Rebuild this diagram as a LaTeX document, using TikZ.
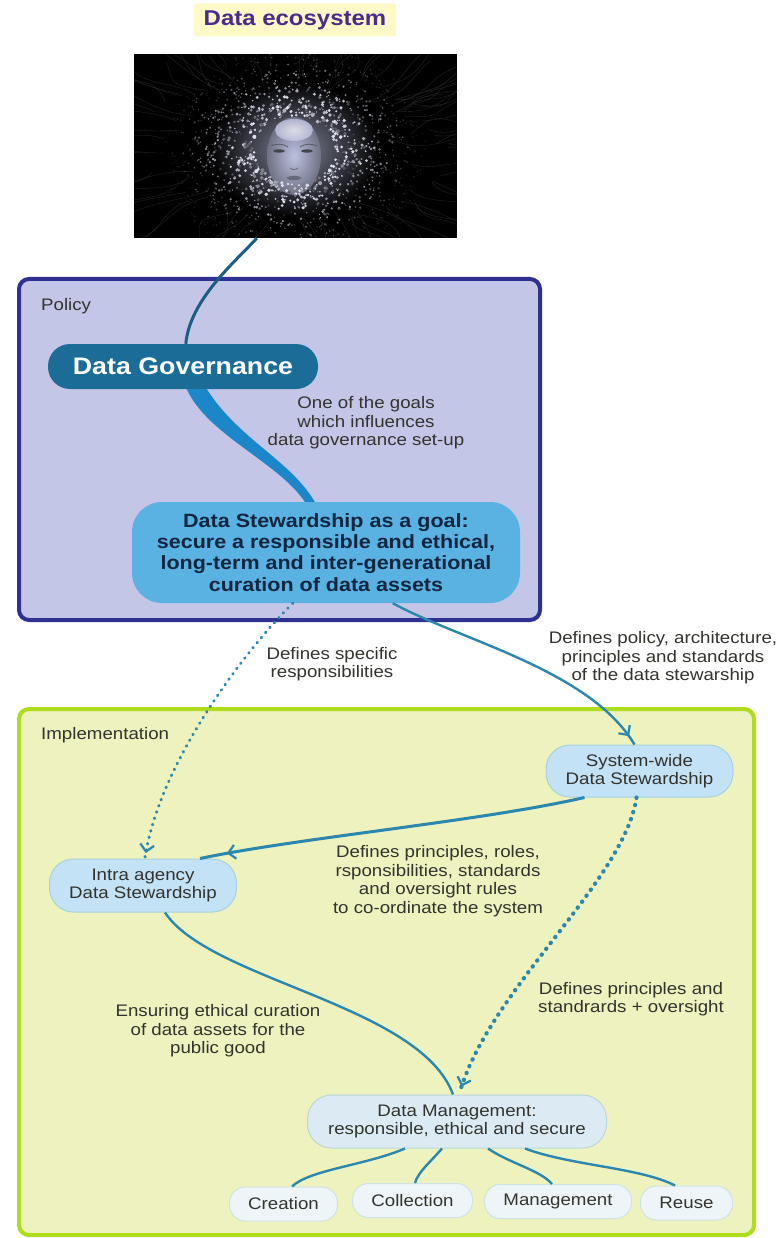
\documentclass[tikz,border=0pt]{standalone}
\usepackage{fontspec}
\setmainfont[FakeStretch=1.12]{Liberation Sans}
\usetikzlibrary{calc,arrows.meta,decorations.markings}
\definecolor{lbl}{HTML}{33332E}
\definecolor{cline}{HTML}{2B87AD}
\definecolor{cdark}{HTML}{1B5E85}
\definecolor{dgfill}{HTML}{1B6D98}
\definecolor{dsfill}{HTML}{5AB2E3}
\definecolor{taper}{HTML}{1B86C8}
\definecolor{steel}{HTML}{B9BEDD}
\definecolor{titlebg}{RGB}{255,249,200}
\definecolor{titletx}{RGB}{75,42,140}
\definecolor{polbd}{RGB}{46,49,146}
\definecolor{polbg}{RGB}{195,198,230}
\definecolor{impbd}{RGB}{174,221,30}
\definecolor{impbg}{RGB}{238,242,190}
\definecolor{dstx}{RGB}{18,38,63}
\definecolor{pa}{RGB}{167,210,217}
\definecolor{pafill}{RGB}{195,226,246}
\definecolor{pb}{RGB}{185,215,220}
\definecolor{pbfill}{RGB}{220,235,243}
\definecolor{pc}{RGB}{207,227,230}
\definecolor{pcfill}{RGB}{237,245,248}
\definecolor{spark}{RGB}{222,224,240}
\tikzset{
  lab/.style={text=lbl,align=center,inner sep=0pt,font=\fontsize{16.7}{18.6}\selectfont},
  boxlab/.style={lab,anchor=west},
  frame/.style={draw,line width=4pt,rounded corners=10pt},
  pill/.style={draw=#1,fill=#1fill,line width=1pt,rounded corners=24pt,inner sep=0pt,align=center,text=lbl,font=\fontsize{16.7}{18.6}\selectfont},
  leaf/.style={pill=pc,rounded corners=16pt,minimum height=34},
  conn/.style={draw=cline,line width=2.4pt},
  dots/.style={draw=cline,line cap=round,dash pattern=on 0.6pt off 6pt,line width=3pt},
  dotsb/.style={draw=cline,line cap=round,dash pattern=on 0.4pt off 7pt,line width=4.2pt},
  vhead/.style={postaction={decorate},decoration={markings,mark=at position #1 with {\arrow[solid,line cap=butt,line width=2.2pt,draw=cline]{Straight Barb[length=7pt,width=14pt]}}}}
}
\begin{document}
\begin{tikzpicture}[x=1pt,y=-1pt]
\useasboundingbox (0,0) rectangle (783,1238);
\fill[white] (0,0) rectangle (783,1238);
% title
\node[name=title,minimum width=202,minimum height=33,fill=titlebg,rounded corners=3pt,inner sep=0pt,text=titletx,font=\bfseries\fontsize{21.4}{25}\selectfont] at (295,20) {Data ecosystem};
% containers
\node[name=policy,frame,draw=polbd,fill=polbg,minimum width=521,minimum height=341] at (279.5,449.5) {};
\node[name=impl,frame,draw=impbd,fill=impbg,minimum width=735,minimum height=526] at (386.5,972) {};
\node[name=policylab,boxlab] at (41,306) {Policy};
\node[name=impllab,boxlab] at (41,735) {Implementation};
% image
\node[name=img,fill=black,minimum width=323,minimum height=184,inner sep=0pt] at (295.5,146) {};
\begin{scope}
\clip ($(img.south west)+(0,-1)$) rectangle ($(img.north east)+(0,1)$);
\pgfmathsetseed{4217}
\foreach \i in {1,...,90}{
  \pgfmathsetmacro\a{rnd*360}
  \pgfmathsetmacro\ra{75+rnd*40}
  \pgfmathsetmacro\rb{\ra+40+rnd*60}
  \pgfmathsetmacro\wa{\a+rnd*24-12}
  \pgfmathsetmacro\wb{\a+rnd*24-12}
  \draw[line width=0.3pt,black!84!white]
    ($(295,150)+({1.35*\ra*cos(\a)},{0.8*\ra*sin(\a)})$)
    .. controls ($(295,150)+({1.35*(\ra+25)*cos(\wa)},{0.8*(\ra+25)*sin(\wa)})$)
    and ($(295,150)+({1.35*(\rb-25)*cos(\wb)},{0.8*(\rb-25)*sin(\wb)})$)
    .. ($(295,150)+({1.35*\rb*cos(\a)},{0.8*\rb*sin(\a)})$);
}
\shade[inner color=steel!70!black,outer color=black] (295,150) ellipse (85 and 68);
\end{scope}
% face
\shade[inner color=steel!95!white,outer color=steel!60!black] (294,156) ellipse (27 and 39);
\shade[inner color=white!80!steel,outer color=steel!92!white,opacity=.8] (294,130) ellipse (19 and 11);
\fill[black!65!steel] (279,151) ellipse (6 and 1.6);
\fill[black!65!steel] (307,151) ellipse (6 and 1.6);
\draw[black!55!steel,line width=.7pt] (271,146) .. controls (277,143) and (284,144) .. (288,147);
\draw[black!55!steel,line width=.7pt] (317,146) .. controls (311,143) and (304,144) .. (300,147);
\draw[black!50!steel,line width=.7pt] (290,168) .. controls (292,170) and (296,170) .. (298,168);
\fill[black!45!steel] (286,178) .. controls (290,175) and (298,175) .. (302,178) .. controls (298,181) and (290,181) .. (286,178) -- cycle;
\begin{scope}
\clip ($(img.south west)+(0,-1)$) rectangle ($(img.north east)+(0,1)$);
\foreach \i in {1,...,1500}{
  \pgfmathsetmacro\a{rnd*360}
  \pgfmathsetmacro\u{rnd}
  \pgfmathsetmacro\r{36+82*pow(\u,1.15)}
  \pgfmathsetmacro\px{295+1.12*\r*cos(\a)}
  \pgfmathsetmacro\py{150+0.95*\r*sin(\a)}
  \pgfmathsetmacro\b{max(10,min(100,(122-\r)*1.3*(0.35+0.85*rnd)))}
  \pgfmathsetmacro\s{0.6+1.4*rnd*max(0.3,(125-\r)/80)}
  \fill[spark!\b!black] (\px,\py) circle (\s);
}
\end{scope}
% nodes
\node[name=dgov,fill=dgfill,rounded corners=22pt,minimum width=270,minimum height=45,inner sep=0pt,text=white,font=\bfseries\fontsize{23.9}{27}\selectfont] at (183,366.5) {Data Governance};
\node[name=dstew,fill=dsfill,rounded corners=30pt,minimum width=388,minimum height=101,inner sep=0pt,align=center,text=dstx,font=\bfseries\fontsize{19.2}{21.2}\selectfont] at (326,552.5) {Data Stewardship as a goal:\\secure a responsible and ethical,\\long-term and inter-generational\\curation of data assets};
\node[name=sys,pill=pa,minimum width=187,minimum height=52] at (639.5,771) {System-wide\\Data Stewardship};
\node[name=intra,pill=pa,minimum width=187,minimum height=53] at (143,885.5) {Intra agency\\Data Stewardship};
\node[name=dm,pill=pb,minimum width=299,minimum height=53] at (457,1121.5) {Data Management:\\responsible, ethical and secure};
\node[name=creation,leaf,minimum width=108] at (283.5,1204) {Creation};
\node[name=collection,leaf,minimum width=120] at (412.5,1200.5) {Collection};
\node[name=mgmt,leaf,minimum width=147] at (558,1201.5) {Management};
\node[name=reuse,leaf,minimum width=92] at (686.5,1203) {Reuse};
% labels
\node[name=l1,lab] at (366,423) {One of the goals\\which influences\\data governance set-up};
\node[name=l2,lab] at (663,658) {Defines policy, architecture,\\principles and standards\\of the data stewarship};
\node[name=l3,lab] at (332,664) {Defines specific\\responsibilities};
\node[name=l4,lab] at (438,881) {Defines principles, roles,\\rsponsibilities, standards\\and oversight rules\\to co-ordinate the system};
\node[name=l5,lab] at (631,999) {Defines principles and\\standrards + oversight};
\node[name=l6,lab] at (218,1031) {Ensuring ethical curation\\of data assets for the\\public good};
% connectors
\draw[draw=cdark,line width=3pt] ($(img.south west)+(123,0)$) .. controls +(-22,24) and ($(dgov.north west)+(142,-44)$) .. ($(dgov.north west)+(138,0)$);
\fill[taper] ($(dgov.south west)+(139,0)$) .. controls +(21,46) and ($(dstew.north west)+(146,-40)$) .. ($(dstew.north west)+(173,0)$)
  -- ($(dstew.north west)+(183,0)$) .. controls +(-25,-42) and ($(dgov.south west)+(192,51)$) .. ($(dgov.south west)+(159,0)$) -- cycle;
\draw[conn,vhead=0.965] ($(dstew.south west)+(261,0)$) .. controls +(67,37) and ($(sys.north west)+(44,-75)$) .. ($(sys.north west)+(89,0)$);
\draw[dots,vhead=0.985] ($(dstew.south west)+(161,0)$) .. controls +(-43,42) and ($(intra.north west)+(111,-99)$) .. ($(intra.north west)+(96,-1)$);
\draw[conn,line width=3pt,vhead=0.93] ($(sys.south west)+(39,0)$) .. controls +(-105,24) and ($(intra.north west)+(251,-21)$) .. ($(intra.north west)+(151,0)$);
\draw[dotsb,vhead=0.985] ($(sys.south west)+(91,0)$) .. controls +(-12,83) and ($(dm.north west)+(183,-105)$) .. ($(dm.north west)+(153,-3)$);
\draw[conn] ($(intra.south west)+(116,0)$) .. controls +(45,68) and ($(dm.north west)+(113,-90)$) .. ($(dm.north west)+(146,0)$);
\draw[conn] ($(dm.south west)+(98,0)$) .. controls +(-40,17) and ($(creation.north west)+(81,-17)$) .. ($(creation.north west)+(63,0)$);
\draw[conn] ($(dm.south west)+(135,0)$) .. controls +(-12,14) and ($(collection.north west)+(66,-11)$) .. ($(collection.north west)+(63,0)$);
\draw[conn] ($(dm.south west)+(181,0)$) .. controls +(22,15) and ($(mgmt.north west)+(56,-14)$) .. ($(mgmt.north west)+(68,0)$);
\draw[conn] ($(dm.south west)+(218,0)$) .. controls +(45,17) and ($(reuse.north west)+(0,-18)$) .. ($(reuse.north west)+(35,0)$);
\end{tikzpicture}
\end{document}
